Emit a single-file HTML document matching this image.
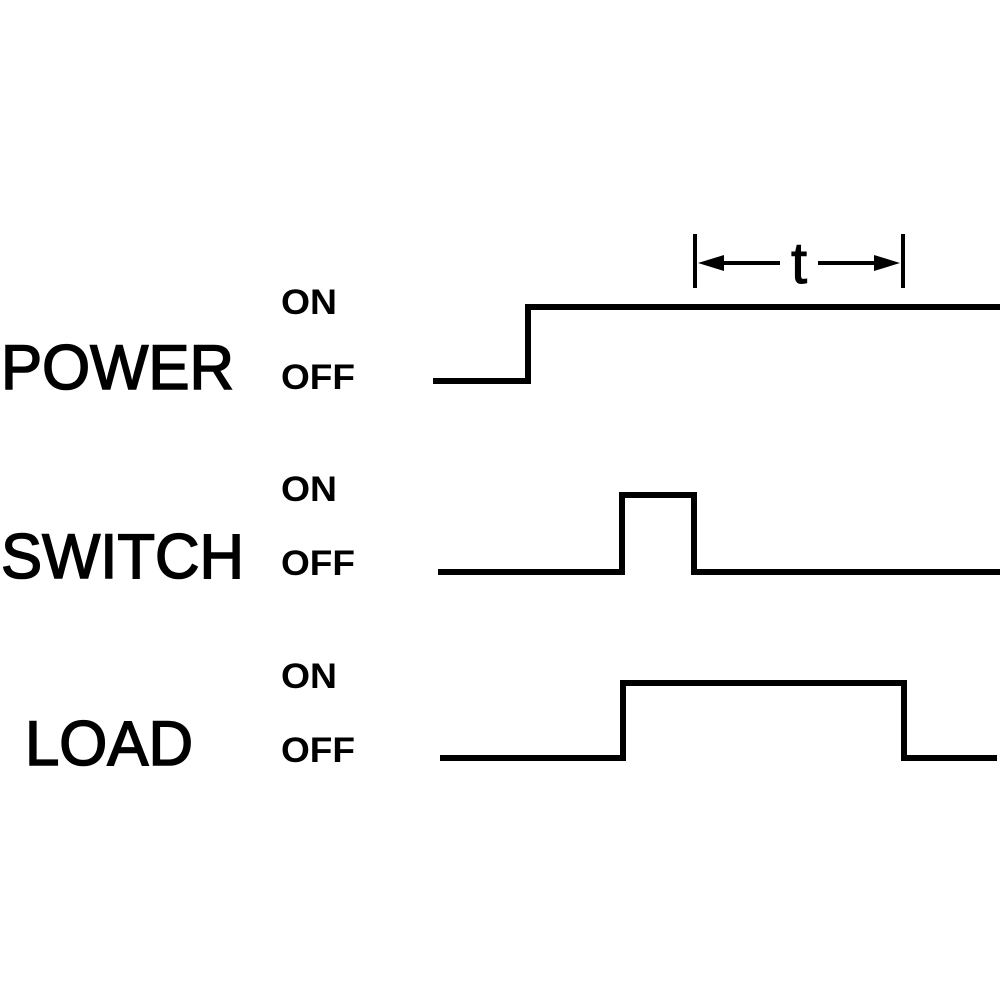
<!DOCTYPE html>
<html><head><meta charset="utf-8"><style>html,body{margin:0;padding:0;background:#fff}svg{display:block}</style></head>
<body>
<svg width="1000" height="1000" viewBox="0 0 1000 1000" xmlns="http://www.w3.org/2000/svg">
<g font-family="Liberation Sans, sans-serif" fill="#000">
<g stroke="#000" stroke-width="1.6">
<text x="1" y="389" font-size="63" textLength="233" lengthAdjust="spacingAndGlyphs">POWER</text>
<text x="1" y="578" font-size="63" textLength="243" lengthAdjust="spacingAndGlyphs">SWITCH</text>
<text x="25" y="765" font-size="63" textLength="168" lengthAdjust="spacingAndGlyphs">LOAD</text>
</g>
<g font-size="35" font-weight="bold">
<text x="281" y="314" textLength="56" lengthAdjust="spacingAndGlyphs">ON</text>
<text x="281" y="389" textLength="74" lengthAdjust="spacingAndGlyphs">OFF</text>
<text x="281" y="501" textLength="56" lengthAdjust="spacingAndGlyphs">ON</text>
<text x="281" y="575" textLength="74" lengthAdjust="spacingAndGlyphs">OFF</text>
<text x="281" y="688" textLength="56" lengthAdjust="spacingAndGlyphs">ON</text>
<text x="281" y="762" textLength="74" lengthAdjust="spacingAndGlyphs">OFF</text>
</g>
<text x="791" y="283" font-size="58" stroke="#000" stroke-width="1">t</text>
</g>
<g fill="none" stroke="#000" stroke-width="6">
<polyline points="433,381 528,381 528,307 1000,307"/>
<polyline points="438,572 622,572 622,495 694,495 694,572 1000,572"/>
<polyline points="440,758 623,758 623,683 904,683 904,758 997,758"/>
</g>
<g stroke="#000" stroke-width="4">
<line x1="695" y1="234" x2="695" y2="288"/>
<line x1="903" y1="234" x2="903" y2="288"/>
<line x1="712" y1="263" x2="780" y2="263"/>
<line x1="818" y1="263" x2="885" y2="263"/>
</g>
<polygon points="698,263 724,255 724,271" fill="#000"/>
<polygon points="900,263 874,255 874,271" fill="#000"/>
</svg>
</body></html>
